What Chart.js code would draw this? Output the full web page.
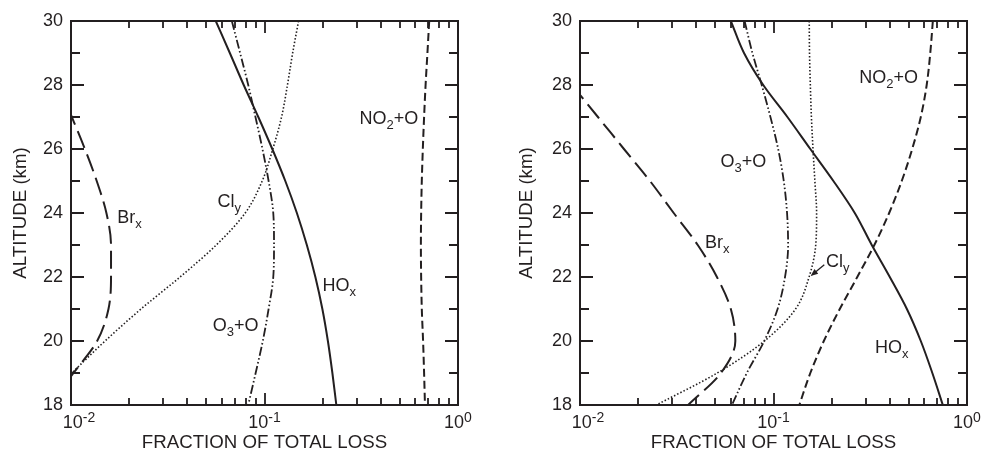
<!DOCTYPE html>
<html>
<head>
<meta charset="utf-8">
<script src="https://cdn.jsdelivr.net/npm/chart.js@4.4.1/dist/chart.umd.min.js"></script>
<style>
  html, body { margin: 0; padding: 0; background: #fff; }
  #wrap { position: relative; width: 984px; height: 458px; }
  canvas { position: absolute; top: 0; }
  #c-left { left: 0; }
  #c-right { left: 490px; }
</style>
</head>
<body>
<div id="wrap">
  <canvas id="c-left" width="490" height="458"></canvas>
  <canvas id="c-right" width="494" height="458"></canvas>
</div>
<script>
// ── DATA ────────────────────────────────────────────────────
// altitude grid (km), one value per altitude in every series below
const altitudes = [30, 29, 28, 27, 26, 25, 24, 23, 22, 21, 20, 19, 18];

// left panel: fraction of total loss
const hoxL  = [0.0560, 0.0662, 0.0781, 0.0929, 0.1097, 0.1281, 0.1470, 0.1655, 0.1832, 0.1991, 0.2126, 0.2243, 0.2351];
const o3oL  = [0.0678, 0.0748, 0.0824, 0.0898, 0.0976, 0.105, 0.111, 0.112, 0.111, 0.105, 0.098, 0.090, 0.0824];
const clyL  = [0.150, 0.1398, 0.1314, 0.1225, 0.1104, 0.0973, 0.0795, 0.0563, 0.0366, 0.0230, 0.0150, 0.0101, 0.0068];
const brxL  = [null, null, 0.0086, 0.0101, 0.0118, 0.01358, 0.01524, 0.0161, 0.0161, 0.01562, 0.01365, 0.0103, 0.0078];
const no2oL = [0.71, 0.695, 0.68, 0.668, 0.658, 0.650, 0.645, 0.643, 0.645, 0.650, 0.660, 0.668, 0.675];

// right panel
const hoxR  = [0.0602, 0.0704, 0.0885, 0.118, 0.155, 0.204, 0.263, 0.322, 0.399, 0.489, 0.577, 0.662, 0.750];
const o3oR  = [0.0709, 0.0778, 0.0869, 0.0964, 0.1057, 0.113, 0.1175, 0.119, 0.1147, 0.105, 0.0896, 0.0728, 0.061];
const clyR  = [0.153, 0.1535, 0.155, 0.157, 0.160, 0.1636, 0.167, 0.1653, 0.1527, 0.130, 0.0897, 0.0512, 0.0248];
const brxR  = [null, null, 0.00908, 0.01238, 0.01687, 0.0230, 0.0305, 0.0406, 0.0510, 0.0602, 0.0635, 0.0535, 0.0362];
const no2oR = [0.666, 0.646, 0.619, 0.577, 0.521, 0.460, 0.396, 0.332, 0.271, 0.220, 0.182, 0.155, 0.136];

// ticks
const altTicks = [18, 19, 20, 21, 22, 23, 24, 25, 26, 27, 28, 29, 30];
const lossTicks = [0.01, 0.02, 0.03, 0.04, 0.05, 0.06, 0.07, 0.08, 0.09,
                   0.1, 0.2, 0.3, 0.4, 0.5, 0.6, 0.7, 0.8, 0.9, 1];
const decades = [0.01, 0.1, 1];
const decadeExp = ['-2', '-1', '0'];

// ── STYLE ───────────────────────────────────────────────────
const ink = '#231f20';
const FAM = '"Liberation Sans", Arial, Helvetica, sans-serif';
Chart.defaults.font.family = FAM;
Chart.defaults.color = ink;

const LINE = {
  hox:  { dash: [],                             width: 2 },
  no2o: { dash: [8, 4],                         width: 2 },
  brx:  { dash: [18, 7],                        width: 2 },
  cly:  { dash: [1.5, 2],                       width: 1.6 },
  o3o:  { dash: [9, 2.5, 1.5, 2.5, 1.5, 2.5],   width: 1.8 }
};

function ds(vals, st) {
  return {
    data: altitudes.map((a, i) => ({ x: vals[i], y: a })),
    borderColor: ink, borderWidth: st.width, borderDash: st.dash,
    pointRadius: 0, fill: false, cubicInterpolationMode: 'monotone'
  };
}

// curve label: main text, subscript, trailing text
function label(ctx, x, y, main, sub, tail) {
  ctx.font = '18px ' + FAM;
  ctx.fillText(main, x, y);
  let w = ctx.measureText(main).width;
  ctx.font = '13px ' + FAM;
  ctx.fillText(sub, x + w, y + 5);
  w += ctx.measureText(sub).width;
  if (tail) { ctx.font = '18px ' + FAM; ctx.fillText(tail, x + w, y); }
}

// ── FRAME / TICKS / ANNOTATIONS ─────────────────────────────
const decor = {
  id: 'decor',
  afterDatasetsDraw(chart, args, opts) {
    const { ctx, chartArea: a, scales: { x, y } } = chart;
    ctx.save();
    ctx.strokeStyle = ink; ctx.fillStyle = ink;
    ctx.lineWidth = 2;
    ctx.strokeRect(a.left, a.top, a.right - a.left, a.bottom - a.top);

    ctx.lineWidth = 1.8;
    ctx.beginPath();
    altTicks.forEach(v => {
      const py = Math.round(y.getPixelForValue(v)), len = v % 2 ? 9 : 13;
      ctx.moveTo(a.left, py);  ctx.lineTo(a.left + len, py);
      ctx.moveTo(a.right, py); ctx.lineTo(a.right - len, py);
    });
    lossTicks.forEach(v => {
      const px = Math.round(x.getPixelForValue(v)), len = decades.includes(v) ? 12 : 7;
      ctx.moveTo(px, a.bottom); ctx.lineTo(px, a.bottom - len);
      ctx.moveTo(px, a.top);    ctx.lineTo(px, a.top + len);
    });
    ctx.stroke();

    // decade labels 10^n
    ctx.textBaseline = 'alphabetic'; ctx.textAlign = 'left';
    decades.forEach((v, i) => {
      const px = x.getPixelForValue(v) + (i === 0 ? 8 : 0);
      ctx.font = '18px ' + FAM;
      const w1 = ctx.measureText('10').width;
      ctx.font = '14px ' + FAM;
      const w2 = ctx.measureText(decadeExp[i]).width;
      const x0 = px - (w1 + w2) / 2;
      ctx.font = '18px ' + FAM;
      ctx.fillText('10', x0, a.bottom + 23);
      ctx.font = '14px ' + FAM;
      ctx.fillText(decadeExp[i], x0 + w1, a.bottom + 16.5);
    });

    (opts.labels || []).forEach(l => {
      label(ctx, x.getPixelForValue(l.at[0]), y.getPixelForValue(l.at[1]), l.main, l.sub, l.tail);
    });

    if (opts.arrow) {
      const [p0, p1] = opts.arrow;
      const x0 = x.getPixelForValue(p0[0]), y0 = y.getPixelForValue(p0[1]);
      const x1 = x.getPixelForValue(p1[0]), y1 = y.getPixelForValue(p1[1]);
      const ang = Math.atan2(y1 - y0, x1 - x0);
      ctx.lineWidth = 1.3;
      ctx.beginPath(); ctx.moveTo(x0, y0); ctx.lineTo(x1 - 4 * Math.cos(ang), y1 - 4 * Math.sin(ang)); ctx.stroke();
      ctx.beginPath();
      ctx.moveTo(x1, y1);
      ctx.lineTo(x1 - 8 * Math.cos(ang - 0.38), y1 - 8 * Math.sin(ang - 0.38));
      ctx.lineTo(x1 - 8 * Math.cos(ang + 0.38), y1 - 8 * Math.sin(ang + 0.38));
      ctx.closePath(); ctx.fill();
    }
    ctx.restore();
  }
};

// ── CHART ───────────────────────────────────────────────────
function panel(id, series, yWidth, rightPad, yTitlePad, labels, arrow) {
  new Chart(document.getElementById(id), {
    type: 'line',
    data: { datasets: series },
    options: {
      indexAxis: 'y',
      responsive: false, animation: false, devicePixelRatio: 1,
      layout: { padding: { left: 0, top: 21, right: rightPad, bottom: 0 } },
      plugins: { legend: { display: false }, tooltip: { enabled: false }, decor: { labels, arrow } },
      scales: {
        x: {
          type: 'logarithmic', min: 0.01, max: 1, position: 'bottom',
          grid: { display: false, drawTicks: false }, border: { display: false },
          ticks: { display: false },
          title: { display: true, text: 'FRACTION OF TOTAL LOSS', color: ink,
                   font: { size: 18.7 }, padding: { top: 0, bottom: 4 } },
          afterFit: s => { s.height = 53; }
        },
        y: {
          type: 'linear', min: 18, max: 30, position: 'left',
          grid: { display: false, drawTicks: false }, border: { display: false },
          ticks: { stepSize: 1, autoSkip: false, padding: 8, color: ink, font: { size: 18 },
                   callback: v => (v % 2 === 0 ? String(v) : '') },
          title: { display: true, text: 'ALTITUDE (km)', color: ink,
                   font: { size: 18.7 }, padding: { top: yTitlePad, bottom: 0 } },
          afterFit: s => { s.width = yWidth; }
        }
      }
    },
    plugins: [decor]
  });
}

panel('c-left',
  [ds(hoxL, LINE.hox), ds(o3oL, LINE.o3o), ds(clyL, LINE.cly), ds(brxL, LINE.brx), ds(no2oL, LINE.no2o)],
  71, 32, 10,
  [
    { main: 'Br', sub: 'x', tail: '',   at: [0.01736, 23.68] },
    { main: 'Cl', sub: 'y', tail: '',   at: [0.0571, 24.20] },
    { main: 'HO', sub: 'x', tail: '',   at: [0.1995, 21.57] },
    { main: 'O',  sub: '3', tail: '+O', at: [0.0541, 20.32] },
    { main: 'NO', sub: '2', tail: '+O', at: [0.310, 26.78] }
  ],
  null);

panel('c-right',
  [ds(hoxR, LINE.hox), ds(o3oR, LINE.o3o), ds(clyR, LINE.cly), ds(brxR, LINE.brx), ds(no2oR, LINE.no2o)],
  90, 17, 26,
  [
    { main: 'O',  sub: '3', tail: '+O', at: [0.0532, 25.43] },
    { main: 'NO', sub: '2', tail: '+O', at: [0.2776, 28.05] },
    { main: 'Br', sub: 'x', tail: '',   at: [0.0442, 22.90] },
    { main: 'Cl', sub: 'y', tail: '',   at: [0.1866, 22.32] },
    { main: 'HO', sub: 'x', tail: '',   at: [0.3346, 19.62] }
  ],
  [[0.183, 22.38], [0.1555, 22.03]]);
</script>
</body>
</html>
